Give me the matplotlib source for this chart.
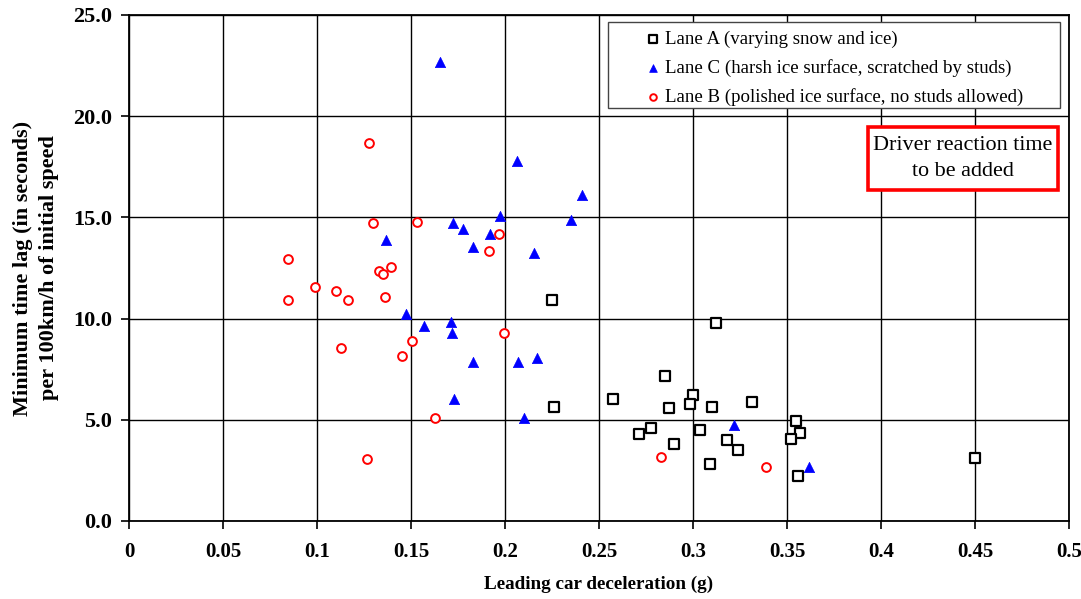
import matplotlib
matplotlib.use("Agg")
import matplotlib.pyplot as plt
from matplotlib.ticker import FixedLocator
from matplotlib.patches import Rectangle

# Lane A (varying snow and ice)
lane_a_x = [0.2248, 0.2261, 0.2573, 0.3124, 0.2853, 0.2998, 0.2986, 0.2872, 0.3103, 0.3314,
            0.3546, 0.2777, 0.2715, 0.3037, 0.3567, 0.3521, 0.3181, 0.2901, 0.3239, 0.3090,
            0.3560, 0.4500]
lane_a_y = [10.92, 5.65, 6.03, 9.80, 7.16, 6.24, 5.78, 5.57, 5.65, 5.86,
            4.92, 4.61, 4.28, 4.48, 4.35, 4.05, 3.99, 3.82, 3.51, 2.83,
            2.21, 3.10]

# Lane C (harsh ice surface, scratched by studs)
lane_c_x = [0.2064, 0.2410, 0.1725, 0.1971, 0.2349, 0.1774, 0.1918, 0.1367, 0.1830, 0.2156,
            0.1473, 0.1567, 0.1711, 0.1720, 0.1830, 0.2071, 0.2168, 0.1727, 0.2103, 0.1656,
            0.3220, 0.3615]
lane_c_y = [17.79, 16.10, 14.74, 15.07, 14.86, 14.43, 14.16, 13.90, 13.52, 13.22,
            10.23, 9.63, 9.83, 9.27, 7.84, 7.84, 8.07, 6.03, 5.10, 22.69,
            4.76, 2.68]

# Lane B (polished ice surface, no studs allowed)
lane_b_x = [0.1277, 0.1299, 0.1532, 0.1970, 0.1913, 0.1392, 0.1328, 0.1353, 0.0991, 0.1101,
            0.1167, 0.1362, 0.1996, 0.1505, 0.1129, 0.1454, 0.1630, 0.0846, 0.0846, 0.1268,
            0.2832, 0.3390]
lane_b_y = [18.68, 14.72, 14.77, 14.20, 13.36, 12.53, 12.35, 12.22, 11.58, 11.36,
            10.92, 11.08, 9.27, 8.89, 8.55, 8.14, 5.10, 12.93, 10.90, 3.05,
            3.16, 2.65]

series_labels = ['Lane A (varying snow and ice)',
                 'Lane C (harsh ice surface, scratched by studs)',
                 'Lane B (polished ice surface, no studs allowed)']

x_ticks = [0, 0.05, 0.1, 0.15, 0.2, 0.25, 0.3, 0.35, 0.4, 0.45, 0.5]
x_tick_labels = ["0", "0.05", "0.1", "0.15", "0.2", "0.25", "0.3", "0.35", "0.4", "0.45", "0.5"]
y_ticks = [0, 5, 10, 15, 20, 25]
y_tick_labels = ["0.0", "5.0", "10.0", "15.0", "20.0", "25.0"]

note_text = 'Driver reaction time\nto be added'

plt.rcParams['font.family'] = ['Liberation Serif', 'DejaVu Serif']

fig = plt.figure(figsize=(10.81, 5.99), dpi=100)
ax = fig.add_axes([129/1081, 1 - 521/599, (1069-129)/1081, (521-15)/599])

ax.scatter(lane_a_x, lane_a_y, marker='s', s=52, facecolors='white', edgecolors='black',
           linewidths=1.6, zorder=3, label=series_labels[0])
ax.scatter(lane_c_x, lane_c_y, marker='^', s=55, facecolors='#0000ff', edgecolors='#0000ff',
           linewidths=0.5, zorder=3, label=series_labels[1])
ax.scatter(lane_b_x, lane_b_y, marker='o', s=40, facecolors='white', edgecolors='#ff0000',
           linewidths=1.4, zorder=3, label=series_labels[2])

ax.set_xlim(0, 0.5)
ax.set_ylim(0, 25)
ax.xaxis.set_major_locator(FixedLocator(x_ticks))
ax.yaxis.set_major_locator(FixedLocator(y_ticks))
ax.set_xticklabels(x_tick_labels, fontsize=15, fontweight='bold')
ax.set_yticklabels(y_tick_labels, fontsize=16, fontweight='bold')
ax.tick_params(axis='both', direction='out', length=6, width=1.2, color='black')
ax.tick_params(axis='x', pad=9)
ax.tick_params(axis='y', pad=6)

ax.grid(True, color='black', linewidth=1.0, zorder=0)
ax.set_axisbelow(True)
for sp in ax.spines.values():
    sp.set_linewidth(1.3)
    sp.set_color('black')

ax.set_xlabel('Leading car deceleration (g)', fontsize=13.8, fontweight='bold', labelpad=10)
ax.set_ylabel('Minimum time lag (in seconds)\nper 100km/h of initial speed', fontsize=16,
              fontweight='bold', labelpad=10, linespacing=1.4)

# legend frame (Excel-style box with generous padding)
frame = Rectangle((0.5096, 0.8162), 0.4808, 0.17, transform=ax.transAxes,
                  facecolor='white', edgecolor='#444444', linewidth=1.0, zorder=4)
ax.add_patch(frame)

leg = ax.legend(loc='upper left', bbox_to_anchor=(0.5474, 0.9695), fontsize=13.6, frameon=False,
                borderpad=0.0, borderaxespad=0.0, handletextpad=0.13, handlelength=1.0,
                markerscale=0.75, labelspacing=0.6)
leg.set_zorder(5)

# note box with red border
note_box = Rectangle((0.7862, 0.6542), 0.2021, 0.1245, transform=ax.transAxes,
                     facecolor='white', edgecolor='#ff0000', linewidth=2.6, zorder=5)
ax.add_patch(note_box)
ax.text(0.7862 + 0.2021 / 2, 0.6542 + 0.1245 / 2, note_text, transform=ax.transAxes,
        fontsize=15.9, ha='center', va='center', linespacing=1.45, zorder=6)

fig.savefig('out.png', dpi=100)
